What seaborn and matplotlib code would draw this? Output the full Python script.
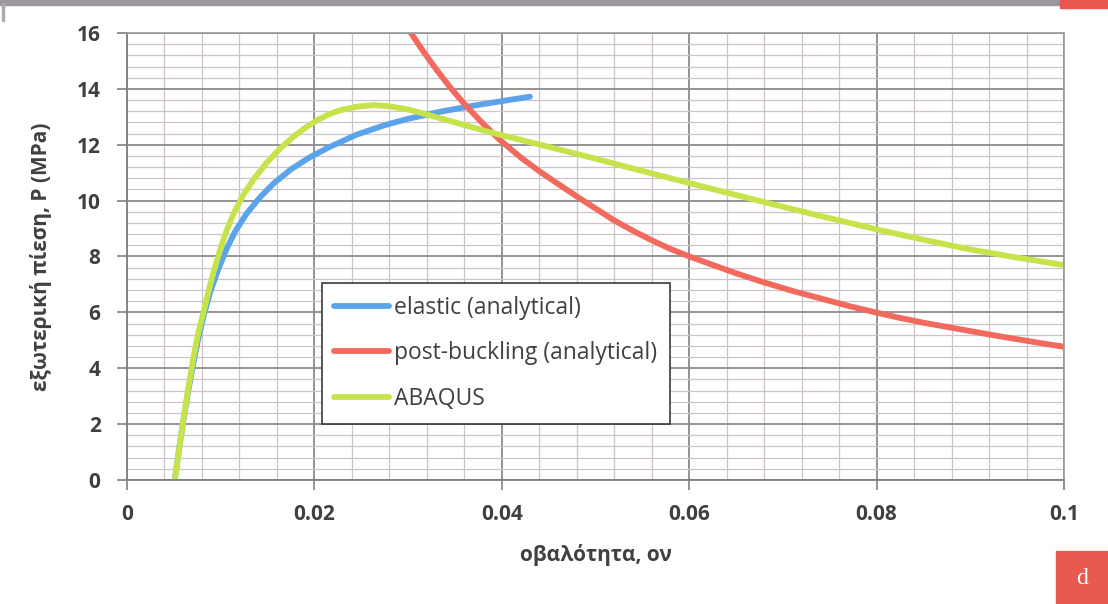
import numpy as np
import pandas as pd
import matplotlib
matplotlib.use("Agg")
import matplotlib.pyplot as plt
from matplotlib.ticker import MultipleLocator, FuncFormatter
from matplotlib.patches import Rectangle
from matplotlib.lines import Line2D
import seaborn as sns

# ovality vs. external pressure (MPa)
elastic_x = [0.0051, 0.0056, 0.0061, 0.0066, 0.0071, 0.0076, 0.0082, 0.0089, 0.0097,
             0.0106, 0.0116, 0.0128, 0.0142, 0.0156, 0.0175, 0.0195, 0.0215,
             0.0245, 0.0275, 0.0299, 0.0334, 0.0370, 0.0400, 0.0430]
elastic_y = [0.0, 1.2, 2.3, 3.3, 4.2, 5.05, 5.9, 6.75, 7.5,
             8.25, 8.93, 9.55, 10.12, 10.6, 11.12, 11.55, 11.9,
             12.36, 12.7, 12.92, 13.18, 13.4, 13.56, 13.72]

abaqus_x = [0.0051, 0.0056, 0.0061, 0.0066, 0.0071, 0.0076, 0.0082, 0.0087, 0.0092,
            0.0099, 0.0106, 0.0114, 0.0124, 0.0136, 0.0149, 0.0163, 0.0178,
            0.0190, 0.0203, 0.0215, 0.0227, 0.0245, 0.0263, 0.0280, 0.0300,
            0.0316, 0.0350, 0.0387, 0.0441, 0.0500, 0.0550, 0.0601, 0.0650,
            0.0700, 0.0740, 0.0800, 0.0850, 0.0900, 0.0950, 0.1000]
abaqus_y = [0.0, 1.2, 2.35, 3.4, 4.4, 5.25, 6.05, 6.75, 7.4,
            8.2, 8.9, 9.55, 10.2, 10.8, 11.35, 11.85, 12.3,
            12.6, 12.88, 13.08, 13.23, 13.36, 13.42, 13.38, 13.26,
            13.12, 12.8, 12.45, 12.0, 11.5, 11.06, 10.62, 10.2,
            9.78, 9.45, 8.97, 8.6, 8.25, 7.96, 7.69]

postbuck_x = [0.0300, 0.0315, 0.0330, 0.0345, 0.0359, 0.0378, 0.0398, 0.0420,
              0.0441, 0.0460, 0.0480, 0.0500, 0.0519, 0.0540, 0.0560, 0.0580,
              0.0601, 0.0625, 0.0650, 0.0680, 0.0710, 0.0740, 0.0770, 0.0800,
              0.0825, 0.0850, 0.0875, 0.0900, 0.0925, 0.0950, 0.0975, 0.1000]
postbuck_y = [16.15, 15.4, 14.7, 14.05, 13.5, 12.82, 12.17, 11.55,
              11.03, 10.6, 10.15, 9.72, 9.31, 8.92, 8.58, 8.27,
              7.99, 7.7, 7.4, 7.07, 6.77, 6.5, 6.23, 5.99,
              5.8, 5.63, 5.48, 5.33, 5.18, 5.04, 4.9, 4.77]

series_names = ["elastic (analytical)", "post-buckling (analytical)", "ABAQUS"]
series_colors = ["#5ba4ea", "#f2695e", "#c6e34c"]

x_ticks = [0, 0.02, 0.04, 0.06, 0.08, 0.1]
y_ticks = [0, 2, 4, 6, 8, 10, 12, 14, 16]

frames = [
    pd.DataFrame({"x": elastic_x, "y": elastic_y, "series": series_names[0]}),
    pd.DataFrame({"x": postbuck_x, "y": postbuck_y, "series": series_names[1]}),
    pd.DataFrame({"x": abaqus_x, "y": abaqus_y, "series": series_names[2]}),
]
data = pd.concat(frames, ignore_index=True)

sns.set_theme(style="white")
plt.rcParams["font.family"] = ["Open Sans", "DejaVu Sans"]

fig = plt.figure(figsize=(11.08, 6.04), dpi=100)
ax = fig.add_axes([0.1146, 0.2053, 0.8457, 0.7401])

sns.lineplot(data=data, x="x", y="y", hue="series", hue_order=series_names,
             palette=series_colors, sort=False, estimator=None, linewidth=4.2,
             ax=ax, legend=False, solid_joinstyle="round")

ax.set_xlim(0, 0.1)
ax.set_ylim(0, 16)
ax.set_xticks(x_ticks)
ax.set_yticks(y_ticks)
ax.xaxis.set_minor_locator(MultipleLocator(0.004))
ax.yaxis.set_minor_locator(MultipleLocator(0.4))
ax.xaxis.set_major_formatter(FuncFormatter(lambda v, p: f"{v:g}"))

ax.grid(which="major", color="#8c8a8e", linewidth=1.3)
ax.grid(which="minor", color="#cfc3cb", linewidth=0.9)
ax.set_axisbelow(True)

for side in ["top", "right"]:
    ax.spines[side].set_color("#9a9a9a")
    ax.spines[side].set_linewidth(1.2)
for side in ["left", "bottom"]:
    ax.spines[side].set_color("#7f7f7f")
    ax.spines[side].set_linewidth(1.3)

ax.tick_params(which="major", direction="out", length=7, width=1.2,
               color="#7f7f7f", labelsize=15, labelcolor="#404040",
               bottom=True, left=True)
ax.tick_params(axis="x", pad=10)
ax.tick_params(axis="y", pad=12)
ax.tick_params(which="minor", length=0)
for lab in ax.get_xticklabels() + ax.get_yticklabels():
    lab.set_fontweight("bold")

ax.set_xlabel("οβαλότητα, ον", fontsize=15, fontweight="bold",
              color="#404040", labelpad=14)
ax.set_ylabel("εξωτερική πίεση, P (MPa)", fontsize=15, fontweight="bold",
              color="#404040", labelpad=18)

handles = [Line2D([], [], color=c, linewidth=4.2) for c in series_colors]
leg = ax.legend(handles, series_names, loc="upper left",
                bbox_to_anchor=(0.208, 0.4407), fontsize=16.5,
                frameon=True, fancybox=False, framealpha=1,
                edgecolor="#3a3a3a", handlelength=2.4, handletextpad=0.2,
                labelspacing=0.95, borderpad=0.55, borderaxespad=0)
leg.get_frame().set_linewidth(1.2)
for t in leg.get_texts():
    t.set_color("#404040")

# page decorations around the chart
fig.patches.append(Rectangle((0, 0.991), 0.957, 0.009, transform=fig.transFigure,
                             color="#9c979c", zorder=0))
fig.patches.append(Rectangle((0.957, 0.987), 0.043, 0.013, transform=fig.transFigure,
                             color="#e9574f", zorder=0))
fig.patches.append(Rectangle((0.002, 0.965), 0.0015, 0.03, transform=fig.transFigure,
                             color="#b0a8ae", zorder=0))
fig.patches.append(Rectangle((0.953, 0.0), 0.047, 0.088, transform=fig.transFigure,
                             color="#e8594f", zorder=0))
fig.text(0.9765, 0.042, "d", color="white", fontsize=17, ha="center", va="center",
         family=["Liberation Serif", "DejaVu Serif"])

fig.savefig("out.png", dpi=100)
